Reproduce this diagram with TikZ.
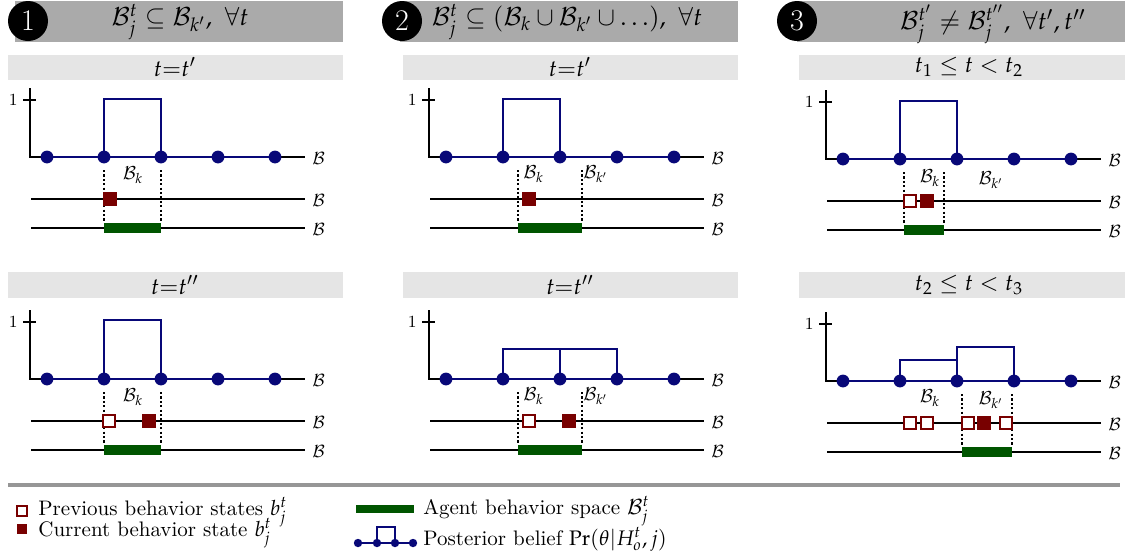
\documentclass[tikz,border=0pt]{standalone}
\usepackage{mathpazo}
\definecolor{belief}{RGB}{8,8,120}
\definecolor{curstate}{RGB}{120,0,0}
\definecolor{spacegreen}{RGB}{0,85,0}
\definecolor{hdrgray}{RGB}{170,170,170}
\definecolor{subgray}{RGB}{229,229,229}
\definecolor{rulegray}{RGB}{150,150,150}
\tikzset{
  axisline/.style={black,line width=1.3pt},
  beliefline/.style={belief,line width=1.3pt},
  bdot/.style={circle,fill=belief,inner sep=0pt,minimum size=6.4pt},
  guide/.style={black,line width=1.3pt,dash pattern=on 1.1pt off 1.1pt},
  spacebar/.style={spacegreen,line width=4.6pt},
  curbox/.style={rectangle,fill=curstate,inner sep=0pt,minimum size=7pt},
  prevbox/.style={rectangle,draw=curstate,fill=white,line width=0.9pt,inner sep=0pt,minimum size=6.1pt},
  smalllbl/.style={inner sep=0pt,font=\fontsize{8.5}{9}\selectfont},
  setlbl/.style={inner sep=0pt,font=\fontsize{9}{10}\selectfont},
  numdisc/.style={circle,fill=black,text=white,inner sep=0pt,minimum size=20pt,font=\fontsize{15}{17}\selectfont},
  hdrtext/.style={inner sep=0pt,font=\fontsize{12.5}{14}\selectfont},
  subtext/.style={inner sep=0pt,font=\fontsize{11.5}{13}\selectfont},
  legtext/.style={inner sep=0pt,anchor=base west,font=\fontsize{10.5}{12}\selectfont},
}
% axes, the posterior belief dots and the three behaviour lines of one panel
% #1 name prefix, #2 x of the vertical axis, #3 y of the belief baseline
\newcommand\beliefpanel[3]{%
  \foreach \i in {0,...,4}{\coordinate (#1c\i) at ({#2+17+57*\i},#3);}
  \coordinate (#1top) at (#2,{#3-69});
  \coordinate (#1orig) at (#2,#3);
  \coordinate (#1end) at ({#2+275},#3);
  \draw[axisline] (#1top) -- (#1orig) -- (#1end);
  \coordinate (#1tl) at ({#2-7},{#3-57});
  \coordinate (#1tr) at ({#2+6},{#3-57});
  \draw[axisline] (#1tl) -- (#1tr);
  \node[smalllbl,anchor=east] (#1one) at ({#2-12},{#3-57}) {1};
  \node[smalllbl,anchor=west] (#1Ba) at ({#2+282},{#3+1}) {$\mathcal{B}$};
  \draw[beliefline] (#1c0) -- (#1c4);
  \coordinate (#1la) at ({#2+1},{#3+42});
  \coordinate (#1lb) at ({#2+275},{#3+42});
  \coordinate (#1ma) at ({#2+1},{#3+71});
  \coordinate (#1mb) at ({#2+275},{#3+71});
  \draw[axisline] (#1la) -- (#1lb);
  \draw[axisline] (#1ma) -- (#1mb);
  \node[smalllbl,anchor=west] (#1Bb) at ({#2+282},{#3+43}) {$\mathcal{B}$};
  \node[smalllbl,anchor=west] (#1Bc) at ({#2+282},{#3+72}) {$\mathcal{B}$};
}
\newcommand\beliefdots[1]{%
  \foreach \i in {0,...,4}{\node[bdot] (#1d\i) at (#1c\i) {};}
}
% dotted guides and the agent behaviour space between x #2 and x #3
\newcommand\behaviourspace[4]{%
  \coordinate (#1ga) at (#2,{#4+13});
  \coordinate (#1gb) at (#2,{#4+65});
  \coordinate (#1ha) at (#3,{#4+13});
  \coordinate (#1hb) at (#3,{#4+65});
  \draw[guide] (#1ga) -- (#1gb);
  \draw[guide] (#1ha) -- (#1hb);
  \coordinate (#1sa) at (#2,{#4+71});
  \coordinate (#1sb) at (#3,{#4+71});
  \draw[spacebar] (#1sa) -- (#1sb);
}
\begin{document}
\begin{tikzpicture}[x=0.5pt,y=-0.5pt]
\useasboundingbox (0,0) rectangle (1125,558);

% ---------- column headers ----------
\fill[hdrgray] (15,1) rectangle (343,42);
\fill[hdrgray] (400,1) rectangle (738,42);
\fill[hdrgray] (797,1) rectangle (1140,42);
\node[numdisc] (num1) at (28,21) {1};
\node[numdisc] (num2) at (402,21) {\fontfamily{phv}\selectfont 2};
\node[numdisc] (num3) at (797,21) {\fontfamily{phv}\selectfont 3};
\node[hdrtext] (cond1) at (180,22) {$\mathcal{B}_j^t \subseteq \mathcal{B}_{k'},\ \forall t$};
\node[hdrtext] (cond2) at (567,22) {$\mathcal{B}_j^t \subseteq (\mathcal{B}_k \cup \mathcal{B}_{k'} \cup \ldots),\ \forall t$};
\node[hdrtext] (cond3) at (993,24) {$\mathcal{B}_j^{t'} \neq \mathcal{B}_j^{t''},\ \forall t', t''$};

% ---------- time bars ----------
\fill[subgray] (8,55) rectangle (343,80);
\fill[subgray] (403,55) rectangle (738,80);
\fill[subgray] (799,55) rectangle (1140,80);
\fill[subgray] (8,272) rectangle (343,298);
\fill[subgray] (403,272) rectangle (738,298);
\fill[subgray] (799,272) rectangle (1140,298);
\node[subtext] (time1a) at (175,67) {$t{=}t'$};
\node[subtext] (time2a) at (570,67) {$t{=}t'$};
\node[subtext] (time3a) at (969,67) {$t_1 \leq t < t_2$};
\node[subtext] (time1b) at (175,285) {$t{=}t''$};
\node[subtext] (time2b) at (570,285) {$t{=}t''$};
\node[subtext] (time3b) at (969,285) {$t_2 \leq t < t_3$};

% ---------- column 1 ----------
\beliefpanel{pa}{30}{157}
\draw[beliefline] (pac1) -- ++(0,-58) -| (pac2);
\beliefdots{pa}
\behaviourspace{pa}{104}{161}{157}
\node[setlbl] (paBk) at (133,175) {$\mathcal{B}_k$};
\node[curbox] (pacur) at (110,199) {};

\beliefpanel{pb}{30}{379}
\draw[beliefline] (pbc1) -- ++(0,-59) -| (pbc2);
\beliefdots{pb}
\behaviourspace{pb}{104}{161}{379}
\node[setlbl] (pbBk) at (133,397) {$\mathcal{B}_k$};
\node[prevbox] (pbprev) at (109,421) {};
\node[curbox] (pbcur) at (149,421) {};

% ---------- column 2 ----------
\beliefpanel{qa}{429}{157}
\draw[beliefline] (qac1) -- ++(0,-58) -| (qac2);
\beliefdots{qa}
\behaviourspace{qa}{518}{582}{157}
\node[setlbl,anchor=west] (qaBk) at (523,174) {$\mathcal{B}_k$};
\node[setlbl,anchor=west] (qaBkk) at (583,174) {$\mathcal{B}_{k'}$};
\node[curbox] (qacur) at (529,199) {};

\beliefpanel{qb}{429}{379}
\draw[beliefline] (qbc1) -- ++(0,-30) -| (qbc3);
\draw[beliefline] (qbc2) -- ++(0,-30);
\beliefdots{qb}
\behaviourspace{qb}{518}{582}{379}
\node[setlbl,anchor=west] (qbBk) at (523,396) {$\mathcal{B}_k$};
\node[setlbl,anchor=west] (qbBkk) at (583,396) {$\mathcal{B}_{k'}$};
\node[prevbox] (qbprev) at (529,421) {};
\node[curbox] (qbcur) at (569,421) {};

% ---------- column 3 ----------
\beliefpanel{ra}{826}{159}
\draw[beliefline] (rac1) -- ++(0,-58) -| (rac2);
\beliefdots{ra}
\behaviourspace{ra}{904}{944}{159}
\node[setlbl] (raBk) at (930,178) {$\mathcal{B}_k$};
\node[setlbl] (raBkk) at (991,180) {$\mathcal{B}_{k'}$};
\node[prevbox] (raprev) at (910,201) {};
\node[curbox] (racur) at (927,201) {};

\beliefpanel{rb}{826}{381}
\draw[beliefline] (rbc1) -- ++(0,-21) -| (rbc2);
\draw[beliefline] (rbc2) -- ++(0,-34) -| (rbc3);
\beliefdots{rb}
\behaviourspace{rb}{962}{1012}{381}
\node[setlbl] (rbBk) at (930,398) {$\mathcal{B}_k$};
\node[setlbl] (rbBkk) at (991,400) {$\mathcal{B}_{k'}$};
\node[prevbox] (rbprevA) at (910,423) {};
\node[prevbox] (rbprevB) at (927,423) {};
\node[prevbox] (rbprevC) at (968,423) {};
\node[curbox] (rbcur) at (984,423) {};
\node[prevbox] (rbprevD) at (1006,423) {};

% ---------- legend ----------
\coordinate (ruleL) at (8,485);
\coordinate (ruleR) at (1120,485);
\draw[rulegray,line width=2pt] (ruleL) -- (ruleR);
\node[prevbox,minimum size=4.7pt] (legprev) at (22,511) {};
\node[curbox,minimum size=5.3pt] (legcur) at (22,529) {};
\node[legtext] (legprevtxt) at (38,515) {Previous behavior states $b_j^t$};
\node[legtext] (legcurtxt) at (38,536) {Current behavior state $b_j^t$};
\coordinate (legsa) at (356,509);
\coordinate (legsb) at (414,509);
\draw[spacegreen,line width=4pt] (legsa) -- (legsb);
\coordinate (legb0) at (358,543);
\coordinate (legb1) at (377,543);
\coordinate (legb2) at (395,543);
\coordinate (legb3) at (413,543);
\draw[beliefline,line width=1.1pt] (legb0) -- (legb3);
\draw[beliefline,line width=1.1pt] (legb1) -- ++(0,-16) -| (legb2);
\foreach \i in {0,...,3}{\node[bdot,minimum size=4.2pt] (legdot\i) at (legb\i) {};}
\node[legtext] (legspacetxt) at (423,514) {Agent behavior space $\mathcal{B}_j^t$};
\node[legtext] (legbelieftxt) at (423,545) {Posterior belief $\Pr(\theta|H_o^t, j)$};
\end{tikzpicture}
\end{document}
